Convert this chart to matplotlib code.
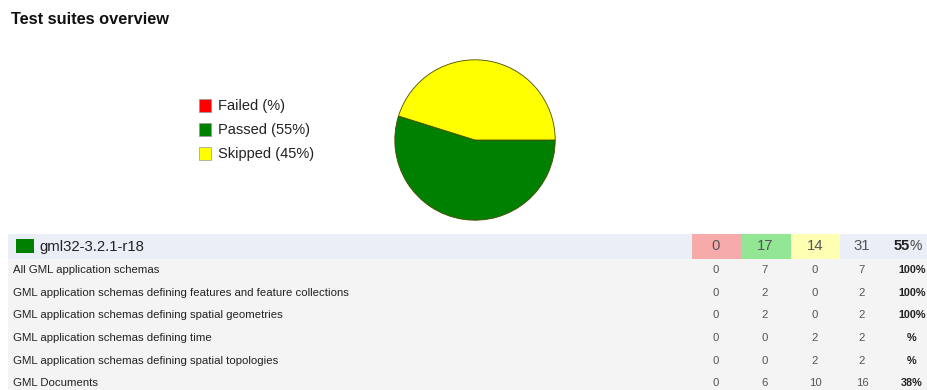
import matplotlib.pyplot as plt
from matplotlib.patches import Rectangle

plt.rcParams['font.family'] = ['Liberation Sans', 'DejaVu Sans']

# pie data
categories = ['Failed', 'Passed', 'Skipped']
counts = [0, 17, 14]
pie_colors = ['#ff0000', '#008000', '#ffff00']

# suite table
suite = 'gml32-3.2.1-r18'
names = ['All GML application schemas',
         'GML application schemas defining features and feature collections',
         'GML application schemas defining spatial geometries',
         'GML application schemas defining time',
         'GML application schemas defining spatial topologies',
         'GML Documents']
failed = [0, 0, 0, 0, 0, 0]
passed = [7, 2, 2, 0, 0, 6]
skipped = [0, 0, 0, 2, 2, 10]


def pct(p, t):
    return f'{round(100 * p / t)}' if p else ''


total_all = sum(counts)
totals = [f + p + s for f, p, s in zip(failed, passed, skipped)]

fig = plt.figure(figsize=(9.27, 3.9), dpi=100)

# overlay axes in pixel units
ax = fig.add_axes([0, 0, 1, 1])
ax.set_xlim(0, 927)
ax.set_ylim(390, 0)
ax.axis('off')

ax.text(11, 20, 'Test suites overview', fontsize=11.8, fontweight='bold',
        va='center', ha='left', color='#111111')

# pie
cx, cy, r = 475, 140, 81
pax = fig.add_axes([(cx - r) / 927, (390 - cy - r) / 390, 2 * r / 927, 2 * r / 390])
pax.pie(counts, colors=pie_colors, startangle=0, counterclock=False,
        wedgeprops=dict(edgecolor='#4a4a00', linewidth=0.6))
pax.set_xlim(-1.01, 1.01)
pax.set_ylim(-1.01, 1.01)

# legend
for i, (c, v, col) in enumerate(zip(categories, counts, pie_colors)):
    y = 106 + i * 24
    ax.add_patch(Rectangle((199, y - 7), 12, 13, facecolor=col,
                           edgecolor='#999999', linewidth=0.5))
    ax.text(218, y, f'{c} ({pct(v, total_all)}%)', fontsize=10.5,
            va='center', ha='left', color='#222222')

# header row
col_x = [716, 765, 815, 862, 910]
ax.add_patch(Rectangle((8, 234), 919, 25, facecolor='#e9eef7', edgecolor='none'))
head_cols = ['#f7aaaa', '#93e693', '#ffffb4']
for i, hc in enumerate(head_cols):
    ax.add_patch(Rectangle((692 + i * 49.3, 234), 49.3, 25, facecolor=hc, edgecolor='none'))
ax.add_patch(Rectangle((16, 239), 18, 14, facecolor='#008000', edgecolor='none'))
ax.text(39, 246.5, suite, fontsize=10.7, va='center', ha='left', color='#222222')
head_vals = [counts[0], counts[1], counts[2], total_all]
for x, v in zip(col_x, head_vals):
    ax.text(x, 246.5, str(v), fontsize=10.7, va='center', ha='center', color='#555555')
ax.text(910, 246.5, pct(counts[1], total_all), fontsize=10.5, fontweight='bold',
        va='center', ha='right', color='#222222')
ax.text(910, 246.5, '%', fontsize=10, va='center', ha='left', color='#444444')

# detail rows
row_h = 22.7
ax.add_patch(Rectangle((8, 259), 919, row_h * len(names) + 5, facecolor='#f4f4f4', edgecolor='none'))
for i, name in enumerate(names):
    y = 270 + i * row_h
    ax.text(13, y, name, fontsize=8.2, va='center', ha='left', color='#222222')
    vals = [failed[i], passed[i], skipped[i], totals[i]]
    for x, v in zip(col_x, vals):
        ax.text(x, y, str(v), fontsize=8.2, va='center', ha='center', color='#555555')
    ax.text(912, y, pct(passed[i], totals[i]) + '%', fontsize=7.8, fontweight='bold',
            va='center', ha='center', color='#222222')

fig.savefig('out.png', dpi=100, facecolor='white')
